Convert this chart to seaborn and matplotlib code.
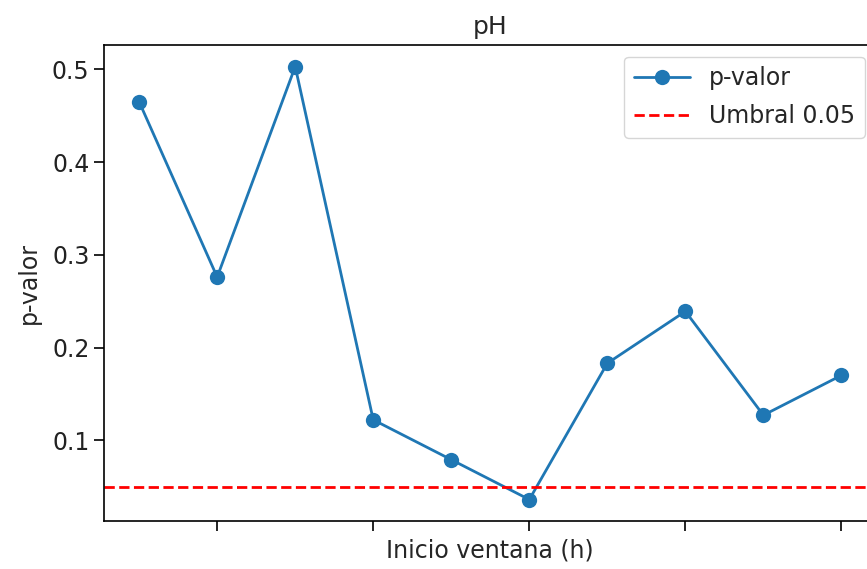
import matplotlib
matplotlib.use("Agg")
import matplotlib.pyplot as plt
import seaborn as sns

# Window start (index) and p-values
inicio_ventana = [1, 2, 3, 4, 5, 6, 7, 8, 9, 10]
p_valor = [0.465, 0.276, 0.503, 0.122, 0.079, 0.036, 0.183, 0.239, 0.127, 0.170]
umbral = 0.05

sns.set_theme(style="ticks")
plt.rcParams["font.family"] = ["DejaVu Sans"]
fs = 17

fig = plt.figure(figsize=(8.67, 5.69), dpi=100)
# axes runs a little past the right edge, as in the (cropped) reference
ax = fig.add_axes([0.12, 0.084, 0.891, 0.837])

sns.lineplot(x=inicio_ventana, y=p_valor, marker="o", markersize=11,
             color="#1f77b4", linewidth=2, markeredgewidth=0,
             label="p-valor", ax=ax)
ax.axhline(umbral, color="red", linestyle="--", linewidth=2, label="Umbral 0.05")

ax.set_title("pH", fontsize=fs + 1, pad=8)
ax.set_xlabel("Inicio ventana (h)", fontsize=fs, labelpad=2)
ax.set_ylabel("p-valor", fontsize=fs, labelpad=8)
ax.set_xticks(inicio_ventana[1::2], labels=[])
ax.set_yticks([0.1, 0.2, 0.3, 0.4, 0.5])
ax.tick_params(labelsize=fs, length=7, width=1.2, colors="black", labelcolor="#222222")
for s in ax.spines.values():
    s.set_color("black")
    s.set_linewidth(1.2)

ax.legend(loc="upper right", fontsize=fs, frameon=True, handlelength=2.4,
          labelspacing=0.6, borderaxespad=0.5)

fig.savefig("out.png", dpi=100)
